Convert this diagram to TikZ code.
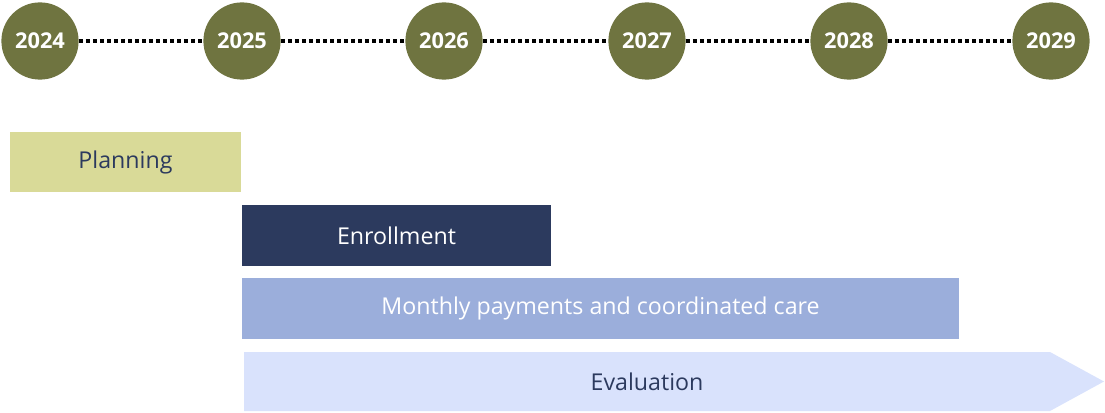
\documentclass[tikz,border=0pt]{standalone}
\usepackage{fontspec}
\setmainfont{Open Sans}
\usetikzlibrary{calc}
\definecolor{olive}{HTML}{6F7440}
\definecolor{planfill}{HTML}{D9DA98}
\definecolor{navy}{HTML}{2C3A5E}
\definecolor{payfill}{HTML}{9BAEDB}
\definecolor{evalfill}{HTML}{D9E2FC}
\tikzset{
	year/.style={circle, fill=olive, minimum size=1.93cm, inner sep=0pt, text=white, font=\fontsize{15.5}{15.5}\selectfont\bfseries},
	dots/.style={line width=2.6pt, dash pattern=on 2.6pt off 2.4pt},
	bar/.style={rectangle, inner sep=0pt, minimum height=1.5cm, font=\fontsize{16.5}{16.5}\selectfont}
}

\begin{document}
\begin{tikzpicture}[x=0.025cm, y=-0.025cm]
		%%%%% START %%%%%
		\useasboundingbox (0, 0) rectangle (1105, 413);
		
		\node[year] (y2024) at (40, 41) {2024};
		\node[year] (y2025) at (242, 41) {2025};
		\node[year] (y2026) at (444, 41) {2026};
		\node[year] (y2027) at (647, 41) {2027};
		\node[year] (y2028) at (849, 41) {2028};
		\node[year] (y2029) at (1051, 41) {2029};
		
		\draw[dots] (y2024) -- (y2025);
		\draw[dots] (y2025) -- (y2026);
		\draw[dots] (y2026) -- (y2027);
		\draw[dots] (y2027) -- (y2028);
		\draw[dots] (y2028) -- (y2029);
		
		\node[bar, fill=planfill, text=navy, minimum width=5.775cm] (planning) at (125.5, 162) {Planning};
		\node[bar, fill=navy, text=white, minimum width=7.725cm] (enroll) at (396.5, 235.5) {Enrollment};
		\node[bar, fill=payfill, text=white, minimum width=17.925cm] (payments) at (600.5, 308.5) {Monthly payments and coordinated care};
		
		\fill[evalfill] (244, 352) -- (1050, 352) -- (1104, 381.5) -- (1050, 411) -- (244, 411) -- cycle;
		\node[bar, text=navy] (eval) at (647, 381.5) {Evaluation};
		
		%%%%% END %%%%%
	\end{tikzpicture}
\end{document}
